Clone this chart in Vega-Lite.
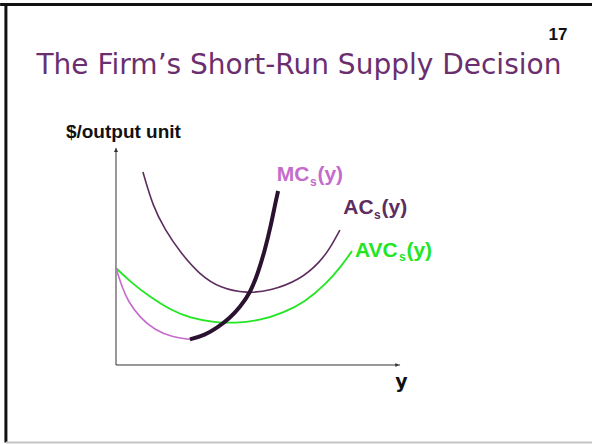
{
  "$schema": "https://vega.github.io/schema/vega-lite/v6.json",
  "width": 592,
  "height": 444,
  "padding": 0,
  "autosize": {"type": "none"},
  "background": "white",
  "config": {"view": {"stroke": null}},
  "datasets": {
    "frame": [
      {"x": -4.39, "y": 16.61, "x2": 18.03, "y2": 16.61, "part": "top"},
      {"x": -4.17, "y": 16.68, "x2": -4.17, "y2": -3.57, "part": "left"}
    ],
    "frameBottom": [
      {"x": -4.17, "y": -3.57, "x2": 18.03, "y2": -3.57}
    ],
    "axes": [
      {"x": 0, "y": 0, "x2": 0, "y2": 10.0},
      {"x": 0, "y": 0, "x2": 10.76, "y2": 0}
    ],
    "arrowUp": [{"x": 0, "y": 9.9}],
    "arrowRight": [{"x": 10.65, "y": 0}],
    "ac": [
      {"x": 1.02, "y": 8.89}, {"x": 1.40, "y": 7.30}, {"x": 1.85, "y": 6.25},
      {"x": 2.42, "y": 5.21}, {"x": 3.18, "y": 4.15}, {"x": 3.94, "y": 3.55},
      {"x": 4.96, "y": 3.30}, {"x": 5.83, "y": 3.41}, {"x": 6.97, "y": 3.92},
      {"x": 7.73, "y": 4.75}, {"x": 8.11, "y": 5.39}, {"x": 8.48, "y": 6.22}
    ],
    "avc": [
      {"x": 0, "y": 4.47}, {"x": 0.53, "y": 3.85}, {"x": 1.29, "y": 3.13},
      {"x": 2.05, "y": 2.55}, {"x": 2.80, "y": 2.17}, {"x": 3.75, "y": 1.96},
      {"x": 4.51, "y": 1.93}, {"x": 5.45, "y": 2.05}, {"x": 6.33, "y": 2.40},
      {"x": 7.16, "y": 2.90}, {"x": 7.99, "y": 3.78}, {"x": 8.48, "y": 4.47},
      {"x": 8.94, "y": 5.25}
    ],
    "mcThin": [
      {"x": 0, "y": 4.47}, {"x": 0.23, "y": 3.59}, {"x": 0.45, "y": 2.95},
      {"x": 0.91, "y": 2.17}, {"x": 1.48, "y": 1.61}, {"x": 2.12, "y": 1.29},
      {"x": 2.80, "y": 1.18}
    ],
    "mcThick": [
      {"x": 2.80, "y": 1.18}, {"x": 3.37, "y": 1.38}, {"x": 3.83, "y": 1.71},
      {"x": 4.32, "y": 2.17}, {"x": 4.70, "y": 2.67}, {"x": 5.08, "y": 3.32},
      {"x": 5.38, "y": 4.24}, {"x": 5.64, "y": 5.30}, {"x": 5.87, "y": 6.45},
      {"x": 6.02, "y": 7.37}, {"x": 6.14, "y": 8.02}
    ],
    "title": [{"x": 6.93, "y": 13.40, "text": "The Firm’s Short-Run Supply Decision"}],
    "page": [{"x": 16.74, "y": 14.98, "text": "17"}],
    "ylab": [{"x": 2.46, "y": 10.46, "text": "$/output unit"}],
    "xlab": [{"x": 10.81, "y": -1.06, "text": "y"}],
    "mcMain": [{"x": 6.09, "y": 8.49, "text": "MC"}, {"x": 7.63, "y": 8.49, "text": "(y)"}],
    "mcSub": [{"x": 7.35, "y": 8.27, "text": "s"}],
    "acMain": [{"x": 8.61, "y": 6.96, "text": "AC"}, {"x": 10.06, "y": 6.96, "text": "(y)"}],
    "acSub": [{"x": 9.77, "y": 6.74, "text": "s"}],
    "avcMain": [{"x": 9.05, "y": 4.99, "text": "AVC"}, {"x": 11.0, "y": 4.99, "text": "(y)"}],
    "avcSub": [{"x": 10.72, "y": 4.77, "text": "s"}]
  },
  "encoding": {
    "x": {"field": "x", "type": "quantitative", "scale": {"domain": [-4.3939, 18.0303], "nice": false, "zero": false}, "axis": null},
    "y": {"field": "y", "type": "quantitative", "scale": {"domain": [-3.6406, 16.8203], "nice": false, "zero": false}, "axis": null}
  },
  "layer": [
    {"data": {"name": "frame"}, "mark": {"type": "rule", "color": "#111111", "strokeWidth": 3}, "encoding": {"x2": {"field": "x2"}, "y2": {"field": "y2"}}},
    {"data": {"name": "frameBottom"}, "mark": {"type": "rule", "color": "#c4c4c4", "strokeWidth": 2}, "encoding": {"x2": {"field": "x2"}, "y2": {"field": "y2"}}},
    {"data": {"name": "axes"}, "mark": {"type": "rule", "color": "#333333", "strokeWidth": 1}, "encoding": {"x2": {"field": "x2"}, "y2": {"field": "y2"}}},
    {"data": {"name": "arrowUp"}, "mark": {"type": "point", "shape": "triangle-up", "filled": true, "color": "#333333", "size": 18, "opacity": 1}},
    {"data": {"name": "arrowRight"}, "mark": {"type": "point", "shape": "triangle-right", "filled": true, "color": "#333333", "size": 18, "opacity": 1}},
    {"data": {"name": "ac"}, "mark": {"type": "line", "color": "#5c2d5e", "strokeWidth": 1.6, "interpolate": "basis"}},
    {"data": {"name": "avc"}, "mark": {"type": "line", "color": "#22e622", "strokeWidth": 1.8, "interpolate": "basis"}},
    {"data": {"name": "mcThin"}, "mark": {"type": "line", "color": "#c46bcb", "strokeWidth": 1.6, "interpolate": "basis"}},
    {"data": {"name": "mcThick"}, "mark": {"type": "line", "color": "#2a1230", "strokeWidth": 4, "interpolate": "basis", "strokeCap": "butt"}},
    {"data": {"name": "title"}, "mark": {"type": "text", "font": "DejaVu Sans", "fontSize": 28, "fontWeight": "normal", "color": "#6b2f6f", "align": "center", "baseline": "alphabetic"}, "encoding": {"text": {"field": "text"}}},
    {"data": {"name": "page"}, "mark": {"type": "text", "font": "Liberation Sans", "fontSize": 17, "fontWeight": "bold", "color": "#111111", "align": "center", "baseline": "alphabetic"}, "encoding": {"text": {"field": "text"}}},
    {"data": {"name": "ylab"}, "mark": {"type": "text", "font": "Liberation Sans", "fontSize": 19, "fontWeight": "bold", "color": "#111111", "align": "right", "baseline": "alphabetic"}, "encoding": {"text": {"field": "text"}}},
    {"data": {"name": "xlab"}, "mark": {"type": "text", "font": "DejaVu Sans", "fontSize": 19, "fontWeight": "bold", "color": "#111111", "align": "center", "baseline": "alphabetic"}, "encoding": {"text": {"field": "text"}}},
    {"data": {"name": "mcMain"}, "mark": {"type": "text", "font": "Liberation Sans", "fontSize": 21, "fontWeight": "bold", "color": "#c46bcb", "align": "left", "baseline": "alphabetic"}, "encoding": {"text": {"field": "text"}}},
    {"data": {"name": "mcSub"}, "mark": {"type": "text", "font": "Liberation Sans", "fontSize": 12, "fontWeight": "bold", "color": "#c46bcb", "align": "left", "baseline": "alphabetic"}, "encoding": {"text": {"field": "text"}}},
    {"data": {"name": "acMain"}, "mark": {"type": "text", "font": "Liberation Sans", "fontSize": 21, "fontWeight": "bold", "color": "#5c2d5e", "align": "left", "baseline": "alphabetic"}, "encoding": {"text": {"field": "text"}}},
    {"data": {"name": "acSub"}, "mark": {"type": "text", "font": "Liberation Sans", "fontSize": 12, "fontWeight": "bold", "color": "#5c2d5e", "align": "left", "baseline": "alphabetic"}, "encoding": {"text": {"field": "text"}}},
    {"data": {"name": "avcMain"}, "mark": {"type": "text", "font": "Liberation Sans", "fontSize": 21, "fontWeight": "bold", "color": "#22e622", "align": "left", "baseline": "alphabetic"}, "encoding": {"text": {"field": "text"}}},
    {"data": {"name": "avcSub"}, "mark": {"type": "text", "font": "Liberation Sans", "fontSize": 12, "fontWeight": "bold", "color": "#22e622", "align": "left", "baseline": "alphabetic"}, "encoding": {"text": {"field": "text"}}}
  ]
}
